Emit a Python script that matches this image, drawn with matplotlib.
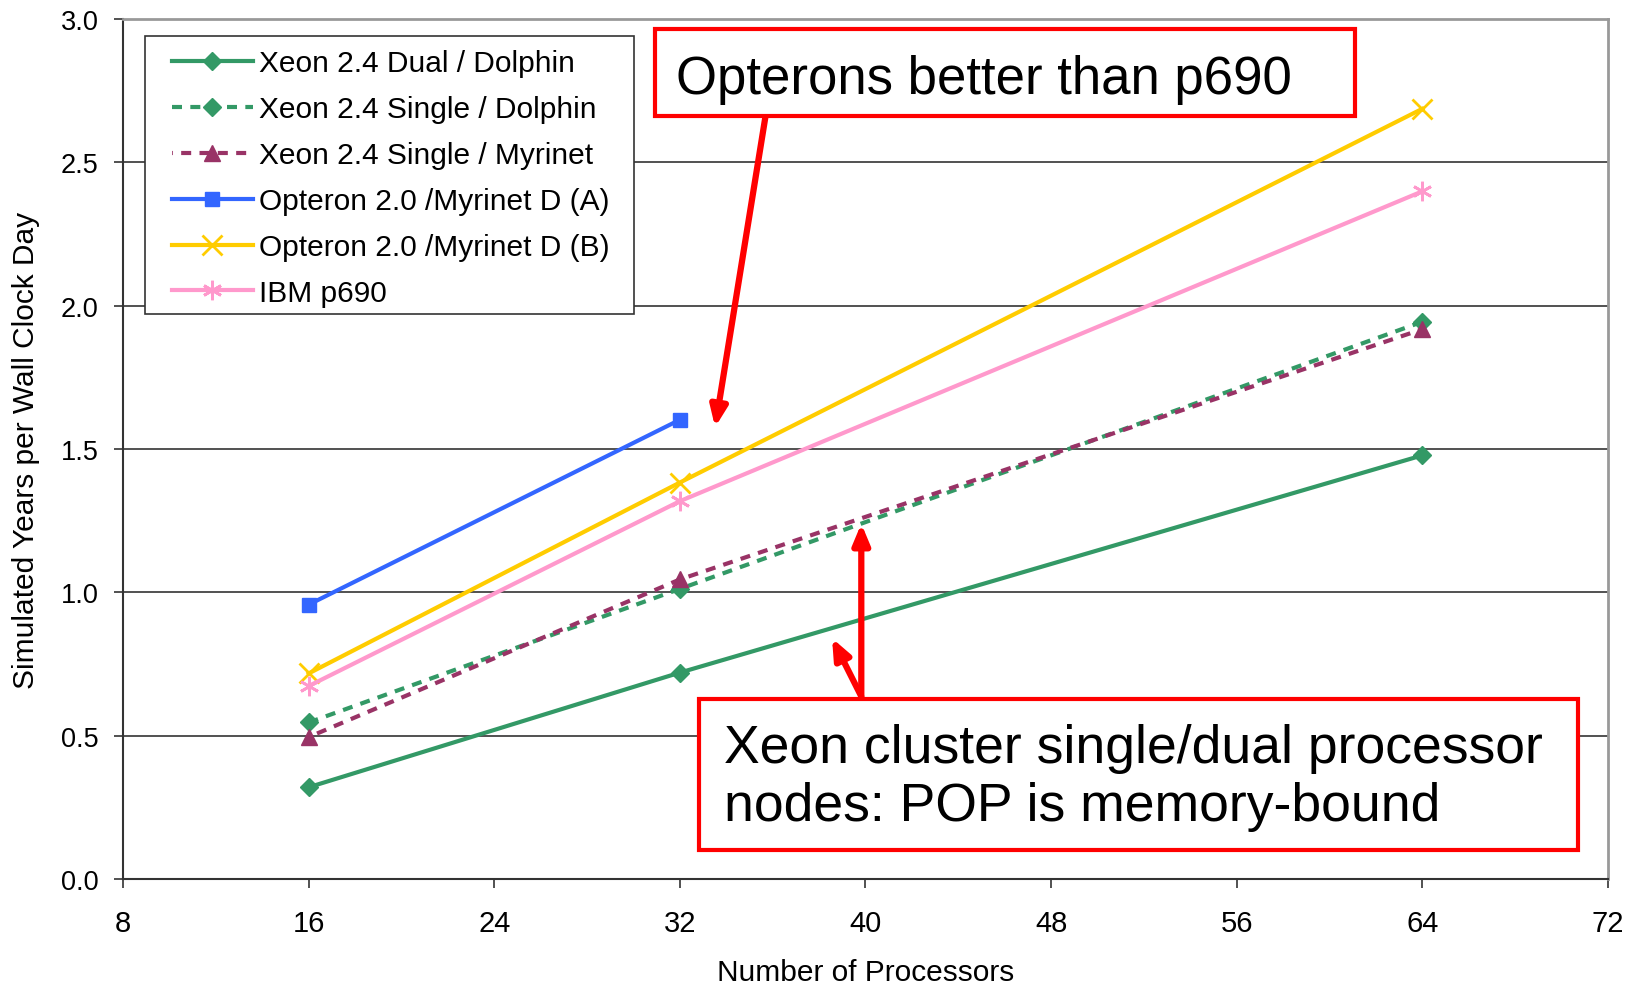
import matplotlib
matplotlib.use('Agg')
import matplotlib.pyplot as plt
from matplotlib.patches import Rectangle

plt.rcParams['font.family'] = ['Liberation Sans', 'DejaVu Sans']

procs = [16, 32, 64]
procs_a = [16, 32]
xeon_dual_dolphin = [0.32, 0.72, 1.478]
xeon_single_dolphin = [0.546, 1.012, 1.944]
xeon_single_myrinet = [0.495, 1.045, 1.918]
opteron_a = [0.957, 1.602]
opteron_b = [0.717, 1.383, 2.687]
ibm_p690 = [0.673, 1.318, 2.399]

fig = plt.figure(figsize=(16.37, 9.87), dpi=100)
ax = fig.add_axes([0.0751, 0.1084, 0.9072, 0.8713])

ax.plot(procs, xeon_dual_dolphin, color='#339966', lw=3, marker='D', ms=9,
        label='Xeon 2.4 Dual / Dolphin', zorder=3)
ax.plot(procs, xeon_single_dolphin, color='#339966', lw=3, ls=(0, (2.4, 2.0)),
        marker='D', ms=9, label='Xeon 2.4 Single / Dolphin', zorder=3)
ax.plot(procs, xeon_single_myrinet, color='#993366', lw=3, ls=(2.2, (2.4, 2.0)),
        marker='^', ms=11, label='Xeon 2.4 Single / Myrinet', zorder=3)
ax.plot(procs_a, opteron_a, color='#3366FF', lw=3, marker='s', ms=10,
        label='Opteron 2.0 /Myrinet D (A)', zorder=3)
ax.plot(procs, opteron_b, color='#FFCC00', lw=3, marker='x', ms=14, mew=2,
        label='Opteron 2.0 /Myrinet D (B)', zorder=3)
ax.plot(procs, ibm_p690, color='#FF99CC', lw=3, marker=(6, 2, 0), ms=14, mew=2,
        label='IBM p690', zorder=3)

ax.set_xlim(8, 72)
ax.set_ylim(0, 3.0)
ax.set_xticks(range(8, 73, 8))
ax.set_yticks([0, 0.5, 1.0, 1.5, 2.0, 2.5, 3.0])
ax.set_yticklabels(['0.0', '0.5', '1.0', '1.5', '2.0', '2.5', '3.0'])
ax.grid(True, axis='y', color='#333333', lw=1.2)
ax.set_axisbelow(True)
ax.tick_params(length=6.5, width=1.2, color='#333333', direction='out')
ax.tick_params(axis='y', labelsize=19.5, pad=11)
ax.tick_params(axis='x', labelsize=21, pad=15)
for s in ['left', 'bottom']:
    ax.spines[s].set_color('#333333')
    ax.spines[s].set_linewidth(1.5)
for s in ['top', 'right']:
    ax.spines[s].set_color('#999999')
    ax.spines[s].set_linewidth(2)

ax.set_xlabel('Number of Processors', fontsize=21.5, va='center')
ax.xaxis.set_label_coords(0.5, -0.108)
ax.set_ylabel('Simulated Years per Wall Clock Day', fontsize=21.5, va='center')
ax.yaxis.set_label_coords(-0.0653, 0.5)

# legend frame drawn separately (wider side padding than top/bottom)
ax.add_patch(Rectangle((0.0148, 0.657), 0.3293, 0.3238, transform=ax.transAxes,
                       fc='white', ec='#333333', lw=1.2, zorder=4))
leg = ax.legend(loc='upper left', bbox_to_anchor=(0.033, 0.9648), fontsize=21.5,
                frameon=False, handlelength=2.7, handletextpad=0.2,
                labelspacing=0.6, borderpad=0, borderaxespad=0)
leg.set_zorder(5)

# annotation boxes
ax.add_patch(Rectangle((0.3582, 0.8872), 0.4714, 0.1012, transform=ax.transAxes,
                       fc='white', ec='#FF0000', lw=3, zorder=6))
ax.text(0.3727, 0.930, 'Opterons better than p690', transform=ax.transAxes,
        fontsize=38, ha='left', va='center', zorder=7)
ax.add_patch(Rectangle((0.3882, 0.0337), 0.5913, 0.1762, transform=ax.transAxes,
                       fc='white', ec='#FF0000', lw=3, zorder=6))
ax.text(0.4044, 0.1186, 'Xeon cluster single/dual processor\nnodes: POP is memory-bound',
        transform=ax.transAxes, fontsize=38.5, ha='left', va='center',
        linespacing=1.22, zorder=7)

arrow = dict(arrowstyle='-|>,head_length=1.2,head_width=0.5', color='#FF0000', lw=4.5,
             shrinkA=0, shrinkB=0)
ax.annotate('', xy=(33.52, 1.576), xytext=(35.77, 2.70), arrowprops=arrow, zorder=5)
ax.annotate('', xy=(39.82, 1.24), xytext=(39.82, 0.637), arrowprops=arrow, zorder=5)
ax.annotate('', xy=(38.56, 0.84), xytext=(39.82, 0.637), arrowprops=arrow, zorder=5)

fig.savefig('out.png', dpi=100)
